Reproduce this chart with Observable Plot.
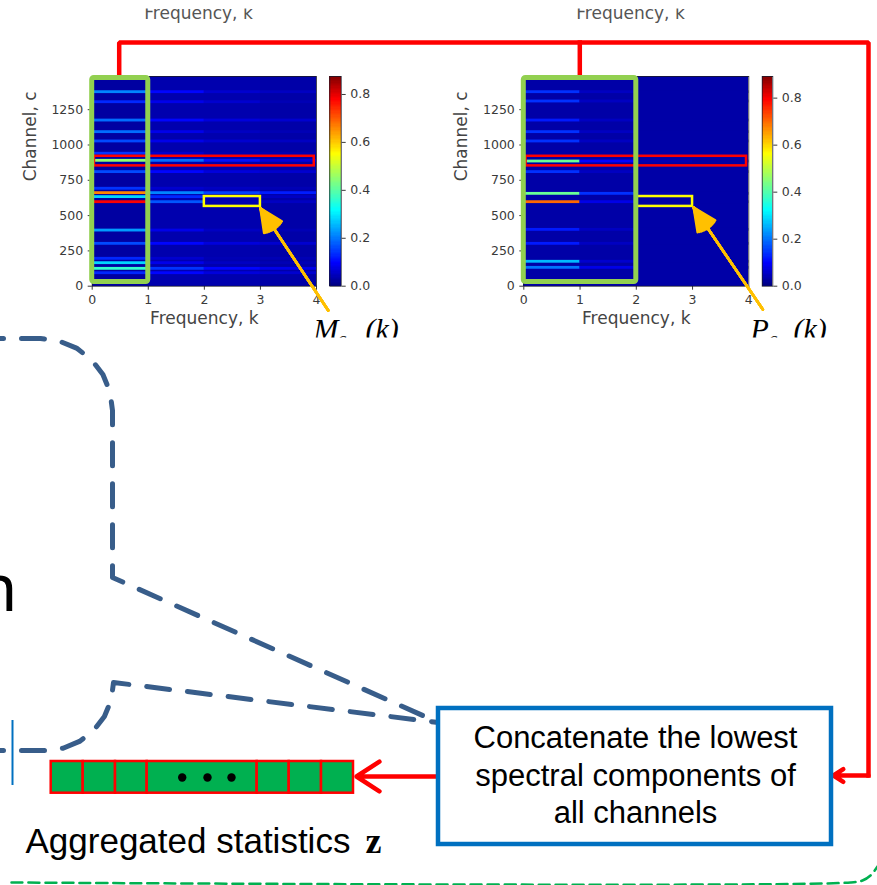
<!DOCTYPE html>
<html><head><meta charset="utf-8">
<script src="https://cdn.jsdelivr.net/npm/d3@7"></script>
<script src="https://cdn.jsdelivr.net/npm/@observablehq/plot@0.6"></script>
<style>
body{margin:0;background:#fff}
#root{position:relative;width:877px;height:885px;overflow:hidden;background:#fff}
#root svg{position:absolute;top:0}
</style></head><body><div id="root"></div>
<script>
// ---------------- DATA ----------------
const freqTicks = [0, 1, 2, 3, 4];
const channelTicks = [0, 250, 500, 750, 1000, 1250];
const colorTicks = [0, 0.2, 0.4, 0.6, 0.8];
const channelMax = 1485;
const magMax = 0.875;
const phaseMax = 0.892;

// magnitude spectrum M_c(k): bright channels, value per frequency bin k = 0..3
const magChannels = [1374, 1303, 1173, 1091, 1025, 938, 888, 808, 690, 659, 631, 595, 394, 300, 194, 163, 123, 92];
const magK0 = [0.21, 0.13, 0.19, 0.19, 0.16, 0.14, 0.45, 0.16, 0.14, 0.66, 0.28, 0.78, 0.23, 0.16, 0.13, 0.28, 0.36, 0.13];
const magK1 = [0.10, 0.08, 0.10, 0.08, 0.08, 0.06, 0.19, 0.10, 0.06, 0.21, 0.13, 0.17, 0.08, 0.10, 0.06, 0.08, 0.14, 0.10];
const magK2 = [0.06, 0.06, 0.07, 0.05, 0.06, 0.04, 0.11, 0.07, 0.05, 0.15, 0.07, 0.04, 0.05, 0.07, 0.04, 0.05, 0.10, 0.07];
const magK3 = [0.05, 0.04, 0.06, 0.04, 0.05, 0.04, 0.07, 0.06, 0.04, 0.12, 0.05, 0.05, 0.04, 0.06, 0.04, 0.04, 0.08, 0.06];
const magBackground = [0.025, 0.035, 0.035, 0.03];

// phase spectrum P_c(k)
const phaseChannels = [1374, 1308, 1173, 1091, 1025, 883, 808, 654, 595, 399, 300, 173, 130];
const phaseK0 = [0.14, 0.14, 0.12, 0.14, 0.14, 0.42, 0.14, 0.42, 0.70, 0.12, 0.12, 0.26, 0.20];
const phaseK1 = [0.05, 0.05, 0.05, 0.05, 0.05, 0.10, 0.05, 0.14, 0.08, 0.05, 0.05, 0.06, 0.08];
const phaseK2 = [0.03, 0.03, 0.03, 0.03, 0.03, 0.04, 0.03, 0.04, 0.03, 0.03, 0.03, 0.03, 0.03];
const phaseK3 = [0.03, 0.03, 0.03, 0.03, 0.03, 0.03, 0.03, 0.03, 0.03, 0.03, 0.03, 0.03, 0.03];
const phaseBackground = [0.03, 0.03, 0.03, 0.03];

// highlighted regions (frequency k, channel c)
const redBand = {c1: 852, c2: 920};
const yellowBand = {k1: 2, k2: 3, c1: 565, c2: 635};
const arrowM = {k1: 4.21, c1: -172, k2: 3.0, c2: 552};
const arrowP = {k1: 4.25, c1: -165, k2: 3.02, c2: 557};

// aggregated vector z
const zCells = ["", "", "", "\u2026", "", "", ""];
const boxText = ["Concatenate the lowest", "spectral components of", "all channels"];

// ---------------- COLOR (jet) ----------------
const jetStops = [0, 0.11, 0.36, 0.63, 0.89, 1];
const jetColors = ["#000080", "#0000ff", "#00ffff", "#ffff00", "#ff0000", "#800000"];
const jetScale = vmax => ({type: "linear", domain: jetStops.map(t => t * vmax), range: jetColors, interpolate: "rgb", label: null});

function cellsOf(channels, cols) {
  const out = [];
  cols.forEach((vals, k) => vals.forEach((v, i) => out.push({k, c: channels[i], v})));
  return out;
}

const root = document.getElementById("root");
const half = 10;

function heatmap({channels, cols, bg, vmax, width, left, right, kGreen, arrow}) {
  const cells = cellsOf(channels, cols);
  const bgCells = bg.map((v, k) => ({k, v}));
  const svg = Plot.plot({
    width, height: 345,
    marginLeft: left, marginRight: width - right, marginTop: 76, marginBottom: 345 - 285.7,
    style: {background: "transparent", overflow: "visible", fontFamily: "DejaVu Sans", fontSize: "12.5px", color: "#3a3a3a"},
    x: {domain: [0, 4], ticks: freqTicks, tickFormat: d => String(d), tickSize: 4, tickPadding: 5, label: null},
    y: {domain: [0, channelMax], ticks: channelTicks, tickFormat: d => String(d), tickSize: 4, tickPadding: 5, label: null},
    color: jetScale(vmax),
    marks: [
      Plot.rect(bgCells, {x1: "k", x2: d => d.k + 1, y1: 0, y2: channelMax, fill: "v", shapeRendering: "crispEdges"}),
      Plot.rect(cells, {x1: "k", x2: d => d.k + 1, y1: d => d.c - half, y2: d => d.c + half, fill: "v"}),
      Plot.frame({stroke: "#1a1a2a", strokeWidth: 0.8}),
      Plot.rect([redBand], {x1: 0.04, x2: 3.96, y1: "c1", y2: "c2", stroke: "#ff0000", strokeWidth: 2.5, fill: "none"}),
      Plot.rect([yellowBand], {x1: "k1", x2: "k2", y1: "c1", y2: "c2", stroke: "#ffff00", strokeWidth: 2.5, fill: "none"}),
      Plot.rect([{k2: kGreen}], {x1: 0, x2: "k2", y1: 30, y2: 1475, stroke: "#92d050", strokeWidth: 5, fill: "none", rx: 2}),
      ...[50, 42, 34, 26, 18, 10, 3].map(a => Plot.arrow([arrow], {x1: "k1", y1: "c1", x2: "k2", y2: "c2", stroke: "#ffc000", strokeWidth: 2.5, headLength: 15, headAngle: a})),
      Plot.text(["Frequency, k"], {frameAnchor: "bottom", dy: 38, fontSize: 17, fill: "#444"}),
      Plot.text(["Channel, c"], {frameAnchor: "left", dx: -62, rotate: -90, fontSize: 17, fill: "#444"})
    ]
  });
  return svg;
}

function colorbar({vmax, width, left, right}) {
  const steps = d3.range(0, 160).map(i => ({a: i * vmax / 160, b: (i + 1) * vmax / 160}));
  return Plot.plot({
    width, height: 345,
    marginLeft: left, marginRight: width - right, marginTop: 76, marginBottom: 345 - 285.7,
    style: {background: "transparent", overflow: "visible", fontFamily: "DejaVu Sans", fontSize: "12.5px", color: "#3a3a3a"},
    x: {domain: [0, 1], axis: null},
    y: {domain: [0, vmax], axis: "right", ticks: colorTicks, tickFormat: d => d.toFixed(1), tickSize: 4, tickPadding: 5, label: null},
    color: jetScale(vmax),
    marks: [
      Plot.rect(steps, {x1: 0, x2: 1, y1: "a", y2: "b", fill: d => (d.a + d.b) / 2, shapeRendering: "crispEdges"}),
      Plot.frame({stroke: "#1a1a2a", strokeWidth: 0.8})
    ]
  });
}

// ---------------- DIAGRAM OVERLAY (pixel layout) ----------------
const L = {
  redLines: [
    {id: "main", pts: [[118.7, 76], [118.7, 42], [868, 42], [868, 775]]},
    {id: "branch", pts: [[579.3, 42], [579.3, 76]]}
  ],
  blueDash: [
    {id: "A", pts: [[0, 338], [40, 338], [58.6, 340.5], [76, 347.6], [90.9, 359.1], [102.4, 374], [109.5, 391.4], [112, 410], [112, 577], [438, 722]]},
    {id: "B", pts: [[0, 750], [45, 750], [62.6, 747.7], [79, 740.9], [93.1, 730.1], [103.9, 716], [110.7, 699.6], [113, 682], [438, 722]]}
  ],
  greenDash: [[11, 882], [850, 882], [862, 880], [870, 875], [877, 866]],
  barEdges: [50.7, 82.7, 115, 146.7, 256.7, 288.7, 321, 353],
  bar: {y1: 761, y2: 792.7},
  dots: [181.7, 207, 231],
  box: {x1: 438, x2: 831, y1: 708, y2: 844},
  boxLines: [748, 786, 823],
  arrowLeft: {x1: 438, y1: 776, x2: 356, y2: 776},
  arrowRight: {x1: 868, y1: 775, x2: 833, y2: 775}
};
const flat = paths => paths.flatMap(p => p.pts.map(([x, y]) => ({id: p.id, x, y})));

const overlay = Plot.plot({
  width: 877, height: 885, margin: 0,
  style: {background: "transparent", overflow: "visible"},
  x: {domain: [0, 877], range: [0, 877], axis: null},
  y: {domain: [0, 885], range: [0, 885], axis: null},
  marks: [
    Plot.line(flat(L.blueDash), {x: "x", y: "y", z: "id", stroke: "#385d8a", strokeWidth: 5, strokeDasharray: "23,18", strokeDashoffset: 20}),
    Plot.line(L.greenDash.map(([x, y]) => ({x, y})), {x: "x", y: "y", stroke: "#00b050", strokeWidth: 2.5, strokeDasharray: "11,6", curve: "catmull-rom"}),
    Plot.ruleX([12], {y1: 720, y2: 785, stroke: "#0070c0", strokeWidth: 2}),
    Plot.text(["n"], {x: 17, y: 589, textAnchor: "end", fontSize: 66, fontFamily: "Noto Sans", fill: "#000"}),
    Plot.line(flat(L.redLines), {x: "x", y: "y", z: "id", stroke: "#ff0000", strokeWidth: 4.5, strokeLinecap: "square", strokeLinejoin: "miter"}),
    Plot.arrow([L.arrowRight], {x1: "x1", y1: "y1", x2: "x2", y2: "y2", stroke: "#ff0000", strokeWidth: 4.5, headLength: 24, headAngle: 66}),
    Plot.arrow([L.arrowLeft], {x1: "x1", y1: "y1", x2: "x2", y2: "y2", stroke: "#ff0000", strokeWidth: 4.5, headLength: 24, headAngle: 66}),
    Plot.rect([L.box], {x1: "x1", x2: "x2", y1: "y1", y2: "y2", fill: "#fff", stroke: "#0070c0", strokeWidth: 4.5}),
    Plot.text(boxText, {x: 635, y: (d, i) => L.boxLines[i] - 10, text: d => d, fontSize: 31, fontFamily: "Liberation Sans", fill: "#000"}),
    Plot.rect(zCells, {x1: (d, i) => L.barEdges[i], x2: (d, i) => L.barEdges[i + 1], y1: L.bar.y1, y2: L.bar.y2, fill: "#00b050", stroke: "#ff0000", strokeWidth: 2.5}),
    Plot.dot(L.dots, {x: d => d, y: 777, r: 4.2, fill: "#000"}),
    Plot.text(["Aggregated statistics"], {x: 25, y: 841, textAnchor: "start", fontSize: 35, fontFamily: "Liberation Sans", fill: "#000"}),
    Plot.text(["z"], {x: 365, y: 841, textAnchor: "start", fontSize: 36, fontFamily: "Liberation Serif", fontWeight: "bold", fill: "#000"}),
    // cut-off labels of the plots above
    Plot.text(["Frequency, k", "Frequency, k"], {x: (d, i) => [198, 630][i], y: 13, fontSize: 17, fontFamily: "DejaVu Sans", fill: "#555"}),
    Plot.rect([0], {x1: 0, x2: 877, y1: -5, y2: 8.5, fill: "#fff"}),
    // spectrum labels
    Plot.text(["M", "P"], {x: (d, i) => [313, 750][i], y: 328.5, textAnchor: "start", fontSize: 30, fontStyle: "italic", fontFamily: "Liberation Serif", fill: "#000"}),
    Plot.text(["c", "c"], {x: (d, i) => [337, 768][i], y: 339, textAnchor: "start", fontSize: 20, fontStyle: "italic", fontFamily: "Liberation Serif", fill: "#000"}),
    Plot.text(["(k)", "(k)"], {x: (d, i) => [365, 793][i], y: 328.5, textAnchor: "start", fontSize: 30, fontStyle: "italic", fontFamily: "Liberation Serif", fill: "#000"}),
    Plot.rect([0, 1], {x1: (d, i) => [300, 740][i], x2: (d, i) => [420, 850][i], y1: 337.5, y2: 360, fill: "#fff"})
  ]
});
overlay.style.left = "0px";
root.appendChild(overlay);

const h1 = heatmap({channels: magChannels, cols: [magK0, magK1, magK2, magK3], bg: magBackground, vmax: magMax, width: 440, left: 91.7, right: 316, kGreen: 1, arrow: arrowM});
h1.style.left = "0px"; root.appendChild(h1);
const c1 = colorbar({vmax: magMax, width: 440, left: 329.3, right: 340.7});
c1.style.left = "0px"; root.appendChild(c1);

const h2 = heatmap({channels: phaseChannels, cols: [phaseK0, phaseK1, phaseK2, phaseK3], bg: phaseBackground, vmax: phaseMax, width: 437, left: 83.3, right: 308.3, kGreen: 2, arrow: arrowP});
h2.style.left = "440px"; root.appendChild(h2);
const c2 = colorbar({vmax: phaseMax, width: 437, left: 321.7, right: 332.3});
c2.style.left = "440px"; root.appendChild(c2);
</script></body></html>
